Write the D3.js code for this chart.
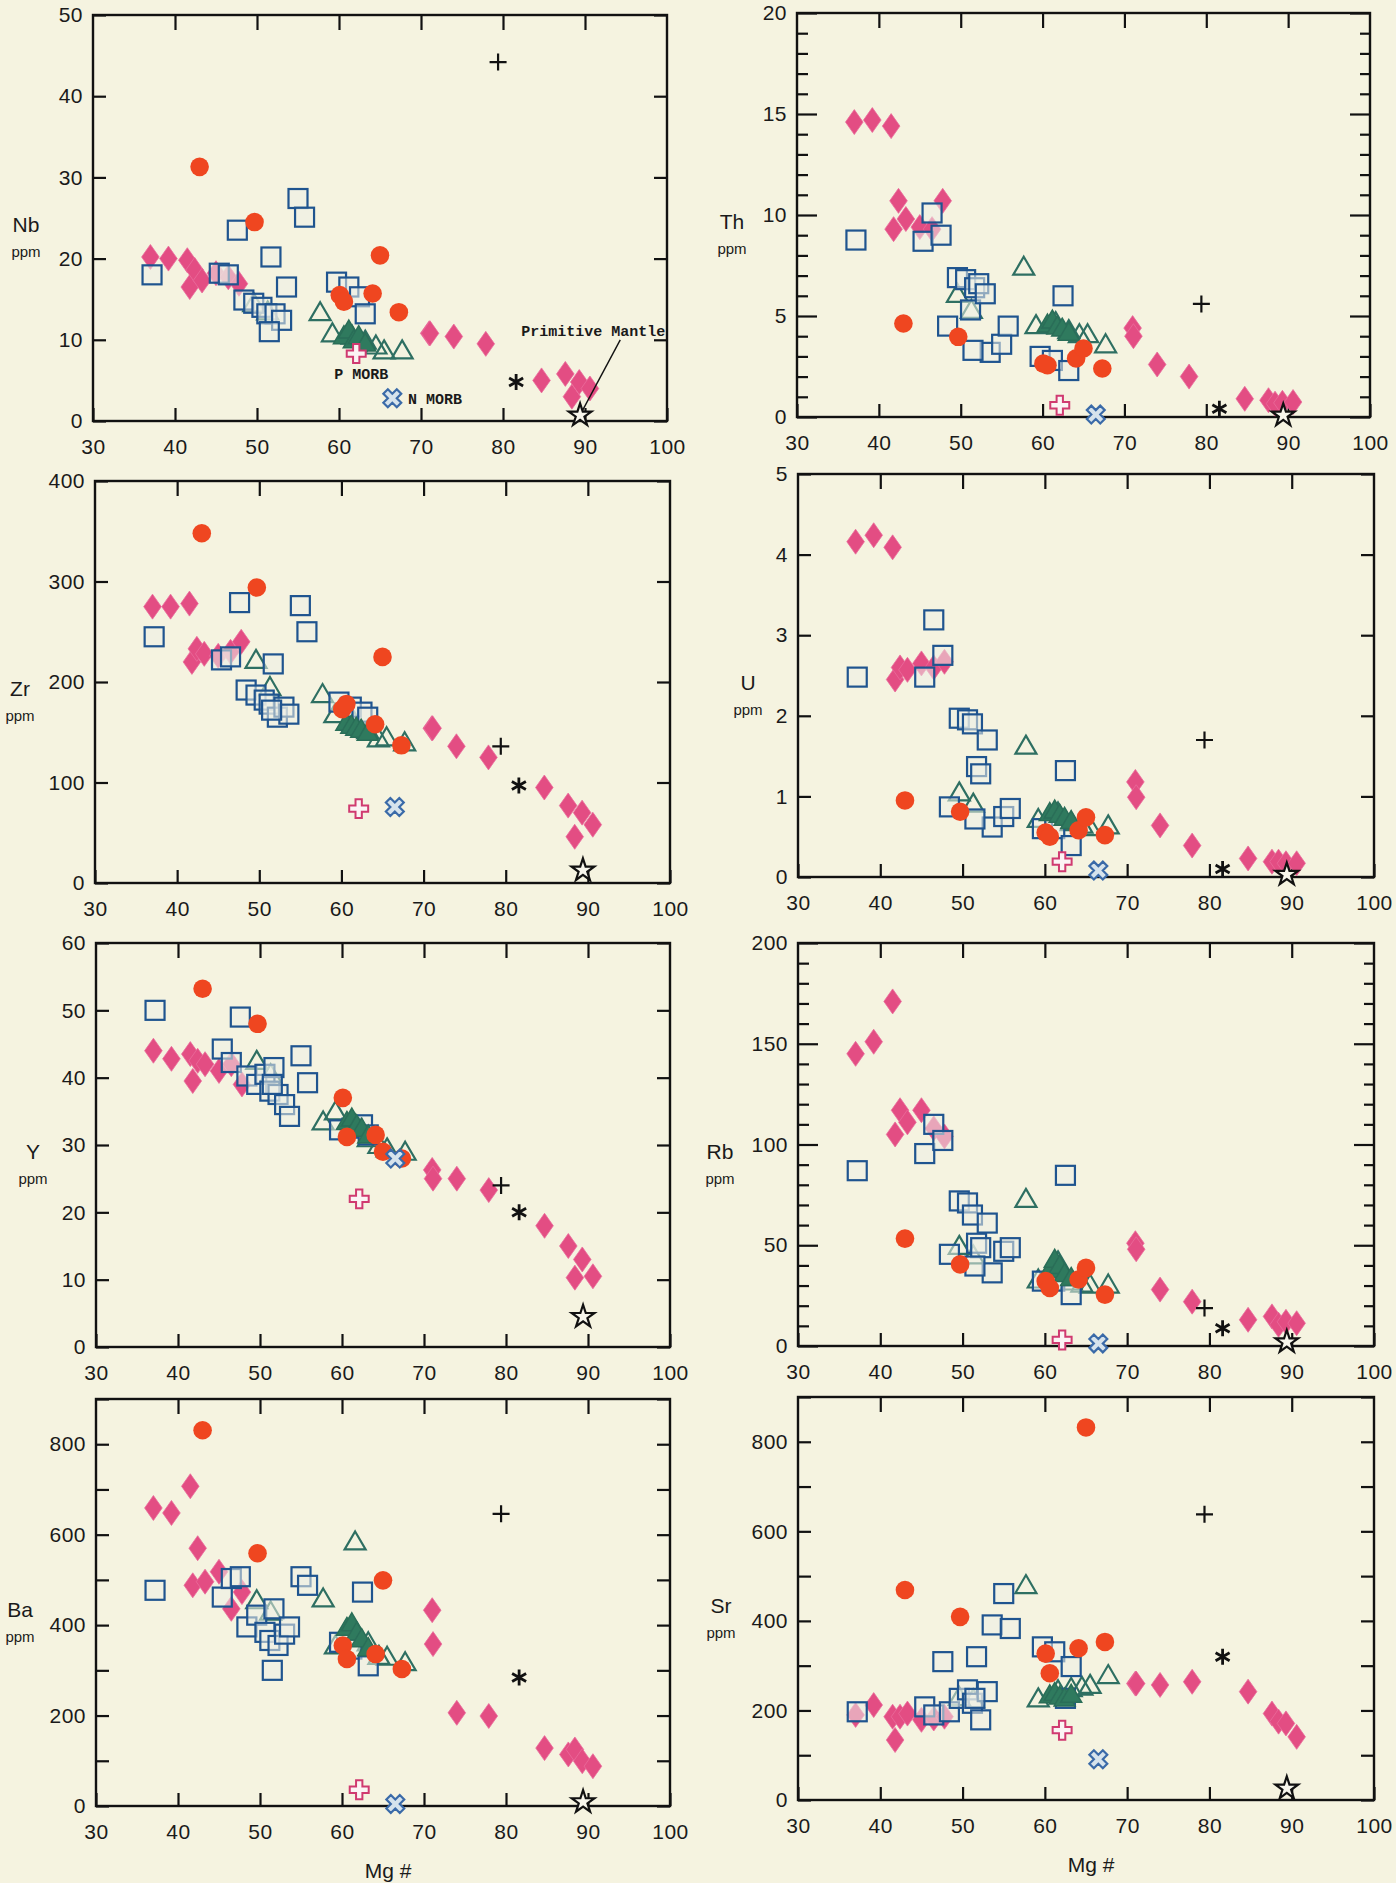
<!DOCTYPE html>
<html>
<head>
<meta charset="utf-8">
<script src="https://cdn.jsdelivr.net/npm/d3@7"></script>
<style>
  body { margin: 0; background: #f5f3e2; }
  svg { display: block; }
</style>
</head>
<body>
<div id="chart"></div>
<script>
// Mg# of every sample group (same samples in every panel)
const mgDiamond = [37.0, 39.2, 41.5, 41.8, 42.4, 43.3, 45.0, 46.5, 47.8, 71.0, 71.1, 74.0, 77.9, 84.7, 87.6, 88.4, 89.3, 90.6];
const mgSquare = [37.2, 45.4, 46.5, 47.6, 48.4, 49.6, 50.6, 51.2, 51.7, 52.2, 53.0, 53.6, 55.0, 55.8, 59.7, 61.2, 62.5, 63.2, 51.5];
const mgCircle = [43.0, 49.7, 60.1, 60.6, 64.1, 65.0, 67.3];
const mgTriOpen = [49.6, 51.3, 57.7, 59.2, 63.2, 64.5, 65.5, 67.7, 61.6];
const mgTriFilled = [60.6, 61.2, 61.8, 62.4, 63.2];
// reference compositions: +, *, P MORB, N MORB, Primitive Mantle
const mgRef = [79.4, 81.6, 62.1, 66.5, 89.4];

const nbDiamond = [20.2, 20.0, 19.8, 16.5, 18.6, 17.3, 18.2, 17.7, 16.9, 10.8, 10.8, 10.4, 9.5, 5.0, 5.8, 3.0, 4.8, 4.0];
const nbSquare = [18.0, 18.2, 18.0, 23.5, 14.9, 14.5, 14.0, 13.2, 20.2, 13.2, 12.4, 16.5, 27.4, 25.1, 17.1, 16.5, 15.3, 13.2, 11.0];
const nbCircle = [31.3, 24.5, 15.5, 14.7, 15.7, 20.4, 13.4];
const nbTriOpen = [14.5, 13.5, 13.4, 10.8, 9.9, 9.3, 8.7, 8.7, 10.5];
const nbTriFilled = [10.5, 11.2, 10.0, 10.5, 9.6];
const nbRef = [44.2, 4.8, 8.3, 2.8, 0.7];

const thDiamond = [14.6, 14.7, 14.4, 9.3, 10.7, 9.8, 9.4, 9.3, 10.7, 4.4, 4.0, 2.6, 2.0, 0.9, 0.83, 0.66, 0.7, 0.74];
const thSquare = [8.76, 8.7, 10.1, 9.0, 4.5, 6.9, 6.8, 5.3, 6.4, 6.6, 6.1, 3.2, 3.6, 4.5, 3.0, 2.8, 6.0, 2.3, 3.3];
const thCircle = [4.63, 3.97, 2.64, 2.56, 2.9, 3.39, 2.4];
const thTriOpen = [6.1, 5.3, 7.44, 4.55, 4.3, 4.1, 4.1, 3.6, 4.7];
const thTriFilled = [4.6, 4.8, 4.5, 4.4, 4.2];
const thRef = [5.6, 0.41, 0.58, 0.12, 0.08];

const zrDiamond = [275, 275, 278, 220, 233, 228, 226, 230, 240, 154, 154, 136, 125, 95, 77, 46, 70, 58];
const zrSquare = [245, 222, 225, 279, 192, 187, 182, 178, 218, 165, 175, 168, 276, 250, 180, 175, 170, 165, 172];
const zrCircle = [348, 294, 173, 178, 158, 225, 137];
const zrTriOpen = [222, 195, 188, 168, 152, 144, 145, 140, 160];
const zrTriFilled = [160, 157, 155, 153, 150];
const zrRef = [136, 97, 74, 75.6, 12.6];

const uDiamond = [4.16, 4.24, 4.09, 2.45, 2.6, 2.57, 2.65, 2.6, 2.67, 1.18, 0.99, 0.64, 0.39, 0.23, 0.19, 0.19, 0.17, 0.17];
const uSquare = [2.48, 2.48, 3.19, 2.75, 0.87, 1.97, 1.95, 1.9, 1.37, 1.28, 1.7, 0.62, 0.75, 0.85, 0.6, 0.6, 1.32, 0.39, 0.72];
const uCircle = [0.95, 0.81, 0.55, 0.5, 0.58, 0.74, 0.52];
const uTriOpen = [1.05, 0.91, 1.63, 0.72, 0.68, 0.65, 0.62, 0.64, 0.8];
const uTriFilled = [0.8, 0.83, 0.78, 0.74, 0.7];
const uRef = [1.7, 0.1, 0.19, 0.08, 0.03];

const yDiamond = [44, 42.8, 43.5, 39.5, 42.5, 42, 41, 42, 39, 26.3, 25, 25, 23.3, 18, 15, 10.3, 13, 10.5];
const ySquare = [50, 44.25, 42.25, 49, 40.25, 39, 40.5, 38, 41.5, 37.5, 36, 34.25, 43.25, 39.25, 32.25, 32.5, 33, 31.5, 39];
const yCircle = [53.2, 48, 37, 31.2, 31.5, 29, 28];
const yTriOpen = [42.5, 40.5, 33.5, 35, 31, 30, 29.5, 29, 33];
const yTriFilled = [33.5, 34, 33, 32.5, 31.5];
const yRef = [24, 20, 22, 28, 4.5];

const rbDiamond = [145, 151, 171, 105, 117, 111, 117, 108, 104, 51, 48, 28, 22, 13, 14.7, 10.5, 12, 11.3];
const rbSquare = [87, 95.5, 110, 102, 45.5, 72, 71, 65, 51, 48.8, 61, 36.3, 47, 48.8, 32.2, 32.2, 84.7, 25.5, 39.7];
const rbCircle = [53.3, 40.5, 32.2, 28.8, 33, 38.8, 25.5];
const rbTriOpen = [49.7, 45, 73, 33, 32, 31, 30.5, 30.5, 42];
const rbTriFilled = [38, 43, 40, 36, 34];
const rbRef = [18.8, 8.8, 3, 1.3, 2];

const baDiamond = [659, 648, 707, 488, 570, 496, 518, 436, 473, 433, 358, 206, 199, 128, 114, 125, 99, 88];
const baSquare = [477, 462, 503, 507, 396, 422, 384, 366, 436, 355, 380, 396, 507, 488, 362, 347, 473, 310, 300];
const baCircle = [831, 559, 355, 325, 336, 499, 303];
const baTriOpen = [455, 430, 459, 355, 362, 332, 330, 318, 585];
const baTriFilled = [395, 405, 385, 370, 350];
const baRef = [646, 284, 36, 4.5, 9];

const srDiamond = [190, 212, 186, 134, 186, 193, 179, 182, 186, 260, 260, 257, 264, 242, 193, 175, 171, 141];
const srSquare = [197, 208, 190, 309, 197, 227, 246, 216, 320, 179, 242, 391, 461, 383, 342, 331, 227, 298, 227];
const srCircle = [469, 409, 327, 283, 339, 832, 353];
const srTriOpen = [230, 225, 480, 227, 250, 253, 257, 279, 245];
const srTriFilled = [235, 240, 232, 228, 236];
const srRef = [638, 320, 156, 91, 26];

const xTickLabels = [30, 40, 50, 60, 70, 80, 90, 100];
const xInnerTicks = [40, 50, 60, 70, 80, 90];

// panel layout (page pixels)
const panels = [
  { name: "Nb", max: 50, major: 10, label: 10, minor: 0, x0: 93, x1: 667, y0: 15, y1: 421, titleDx: -67,
    vals: [nbDiamond, nbSquare, nbCircle, nbTriOpen, nbTriFilled, nbRef] },
  { name: "Th", max: 20, major: 5, label: 5, minor: 1, x0: 797, x1: 1370, y0: 13, y1: 417, titleDx: -65,
    vals: [thDiamond, thSquare, thCircle, thTriOpen, thTriFilled, thRef] },
  { name: "Zr", max: 400, major: 100, label: 100, minor: 0, x0: 95, x1: 670, y0: 481, y1: 883, titleDx: -75,
    vals: [zrDiamond, zrSquare, zrCircle, zrTriOpen, zrTriFilled, zrRef] },
  { name: "U", max: 5, major: 1, label: 1, minor: 0, x0: 798, x1: 1374, y0: 474, y1: 877, titleDx: -50,
    vals: [uDiamond, uSquare, uCircle, uTriOpen, uTriFilled, uRef] },
  { name: "Y", max: 60, major: 10, label: 10, minor: 0, x0: 96, x1: 670, y0: 943, y1: 1347, titleDx: -63,
    vals: [yDiamond, ySquare, yCircle, yTriOpen, yTriFilled, yRef] },
  { name: "Rb", max: 200, major: 50, label: 50, minor: 10, x0: 798, x1: 1374, y0: 943, y1: 1346, titleDx: -78,
    vals: [rbDiamond, rbSquare, rbCircle, rbTriOpen, rbTriFilled, rbRef] },
  { name: "Ba", max: 900, major: 100, label: 200, minor: 0, x0: 96, x1: 670, y0: 1399, y1: 1806, titleDx: -76, mgLabel: true,
    vals: [baDiamond, baSquare, baCircle, baTriOpen, baTriFilled, baRef] },
  { name: "Sr", max: 900, major: 100, label: 200, minor: 0, x0: 798, x1: 1374, y0: 1397, y1: 1800, titleDx: -77, mgLabel: true,
    vals: [srDiamond, srSquare, srCircle, srTriOpen, srTriFilled, srRef] }
];

const W = 1396, H = 1883;
const font = "'Liberation Sans', Arial, sans-serif";
const svg = d3.select("#chart").append("svg")
  .attr("width", W).attr("height", H)
  .attr("viewBox", [0, 0, W, H]);
svg.append("rect").attr("width", W).attr("height", H).attr("fill", "#f5f3e0");

const diamondPath = "M0,-12.5L8.8,0L0,12.5L-8.8,0Z";
const triPath = "M0,-10L10.5,8L-10.5,8Z";
const crossPath = d3.symbol(d3.symbolCross, 200)();
const starPath = d3.symbol(d3.symbolStar, 160)();

function pts(mg, vals) {
  return mg.map((m, i) => ({ mg: m, v: vals[i] }));
}

function styleAxis(g) {
  g.select(".domain").remove();
  g.selectAll(".tick line").attr("stroke", "#111").attr("stroke-width", 2.2);
  g.selectAll(".tick text")
    .attr("fill", "#1a1a1a")
    .style("font-family", font)
    .style("font-size", "21px")
    .style("letter-spacing", "0.5px");
}

function drawPanel(p) {
  const x = d3.scaleLinear().domain([30, 100]).range([p.x0, p.x1]);
  const y = d3.scaleLinear().domain([0, p.max]).range([p.y1, p.y0]);
  const g = svg.append("g");

  // axes with inward ticks
  const majorLen = p.minor ? 20 : 13;
  const majors = d3.range(0, p.max + 1e-9, p.major);
  g.append("g").attr("transform", `translate(0,${p.y1})`)
    .call(d3.axisBottom(x).tickValues(xTickLabels).tickSize(-13).tickPadding(18).tickFormat(d3.format("d")))
    .call(styleAxis);
  g.append("g").attr("transform", `translate(0,${p.y0})`)
    .call(d3.axisTop(x).tickValues(xInnerTicks).tickSize(-15).tickFormat(""))
    .call(styleAxis);
  g.append("g").attr("transform", `translate(${p.x0},0)`)
    .call(d3.axisLeft(y).tickValues(majors).tickSize(-majorLen).tickPadding(10)
      .tickFormat(d => (Math.round(d / p.label * 1000) % 1000 === 0 ? d3.format("d")(d) : "")))
    .call(styleAxis);
  g.append("g").attr("transform", `translate(${p.x1},0)`)
    .call(d3.axisRight(y).tickValues(majors).tickSize(-majorLen).tickFormat(""))
    .call(styleAxis);
  if (p.minor) {
    const minors = d3.range(p.minor, p.max, p.minor).filter(v => Math.abs(v / p.major - Math.round(v / p.major)) > 1e-6);
    g.append("g").attr("transform", `translate(${p.x0},0)`)
      .call(d3.axisLeft(y).tickValues(minors).tickSize(-11).tickFormat(""))
      .call(styleAxis);
    g.append("g").attr("transform", `translate(${p.x1},0)`)
      .call(d3.axisRight(y).tickValues(minors).tickSize(-10).tickFormat(""))
      .call(styleAxis);
  }

  // frame
  g.append("rect")
    .attr("x", p.x0).attr("y", p.y0)
    .attr("width", p.x1 - p.x0).attr("height", p.y1 - p.y0)
    .attr("fill", "none").attr("stroke", "#111").attr("stroke-width", 2.4);

  // axis titles
  const midY = (p.y0 + p.y1) / 2;
  g.append("text")
    .attr("x", p.x0 + p.titleDx).attr("y", midY + 14)
    .attr("text-anchor", "middle")
    .style("font-family", font).style("font-size", "21px").attr("fill", "#1a1a1a")
    .text(p.name);
  g.append("text")
    .attr("x", p.x0 + p.titleDx).attr("y", midY + 39)
    .attr("text-anchor", "middle")
    .style("font-family", font).style("font-size", "15px").attr("fill", "#1a1a1a")
    .text("ppm");
  if (p.mgLabel) {
    g.append("text")
      .attr("x", (p.x0 + p.x1) / 2 + 5).attr("y", p.y1 + 72)
      .attr("text-anchor", "middle")
      .style("font-family", font).style("font-size", "21px").attr("fill", "#1a1a1a")
      .text("Mg #");
  }

  const [dia, sq, cir, triO, triF, ref] = p.vals;
  const tr = d => `translate(${x(d.mg)},${y(d.v)})`;

  g.append("g").selectAll("path").data(pts(mgDiamond, dia)).join("path")
    .attr("d", diamondPath).attr("transform", tr)
    .attr("fill", "#e34d83").attr("stroke", "#ea6c9c").attr("stroke-width", 0.8);

  g.append("g").selectAll("path").data(pts(mgTriOpen, triO)).join("path")
    .attr("d", triPath).attr("transform", tr)
    .attr("fill", "none").attr("stroke", "#2e6f62").attr("stroke-width", 2.2);

  g.append("g").selectAll("rect").data(pts(mgSquare, sq)).join("rect")
    .attr("x", d => x(d.mg) - 9.5).attr("y", d => y(d.v) - 9.5)
    .attr("width", 19).attr("height", 19)
    .attr("fill", "#eceee6").attr("fill-opacity", 0.55)
    .attr("stroke", "#1f548f").attr("stroke-width", 2.2);

  g.append("g").selectAll("path").data(pts(mgTriFilled, triF)).join("path")
    .attr("d", triPath).attr("transform", tr)
    .attr("fill", "#2f7a5e").attr("stroke", "#2a6e58").attr("stroke-width", 1.5);

  g.append("g").selectAll("circle").data(pts(mgCircle, cir)).join("circle")
    .attr("cx", d => x(d.mg)).attr("cy", d => y(d.v)).attr("r", 9.3)
    .attr("fill", "#ef4620");

  const refs = pts(mgRef, ref);
  // +
  g.append("path").attr("transform", tr(refs[0]))
    .attr("d", "M-8.5,0H8.5M0,-8.5V8.5").attr("stroke", "#111").attr("stroke-width", 2.2);
  // *
  g.append("path").attr("transform", tr(refs[1]))
    .attr("d", "M0,-8V8M-7,-4L7,4M-7,4L7,-4").attr("stroke", "#111").attr("stroke-width", 2.8);
  // P MORB
  g.append("path").attr("transform", tr(refs[2]))
    .attr("d", crossPath).attr("fill", "#fbf4f4").attr("stroke", "#d03a70").attr("stroke-width", 2);
  // N MORB
  g.append("path").attr("transform", tr(refs[3]) + " rotate(45)")
    .attr("d", crossPath).attr("fill", "#d6e3ec").attr("stroke", "#3a6aa8").attr("stroke-width", 2.2);
  // Primitive Mantle
  g.append("path").attr("transform", tr(refs[4]))
    .attr("d", starPath).attr("fill", "#f7f6ec").attr("stroke", "#111").attr("stroke-width", 2.2);

  if (p.name === "Nb") {
    const mono = "'Liberation Mono', 'DejaVu Sans Mono', monospace";
    g.append("line")
      .attr("x1", x(94.3)).attr("y1", y(10.0))
      .attr("x2", x(89.7)).attr("y2", y(1.3))
      .attr("stroke", "#111").attr("stroke-width", 1.4);
    g.append("text").attr("x", x(99.8)).attr("y", y(10.5))
      .attr("text-anchor", "end")
      .style("font-family", mono).style("font-size", "15px").style("font-weight", "bold")
      .attr("fill", "#1a1a1a").text("Primitive Mantle");
    g.append("text").attr("x", x(62.7)).attr("y", y(5.2))
      .attr("text-anchor", "middle")
      .style("font-family", mono).style("font-size", "15px").style("font-weight", "bold")
      .attr("fill", "#1a1a1a").text("P MORB");
    g.append("text").attr("x", x(68.4)).attr("y", y(2.1))
      .style("font-family", mono).style("font-size", "15px").style("font-weight", "bold")
      .attr("fill", "#1a1a1a").text("N MORB");
  }
}

panels.forEach(drawPanel);
</script>
</body>
</html>
